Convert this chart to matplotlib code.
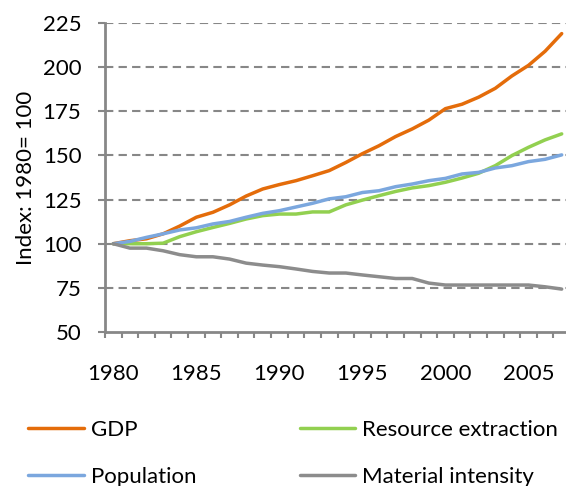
import numpy as np
import matplotlib.pyplot as plt

years = np.arange(1980, 2008)
gdp = [100, 101.7, 102.8, 105.6, 110, 115, 117.8, 122, 127, 131, 133.5, 135.7,
       138.5, 141.4, 146, 151, 155.5, 160.7, 165, 170, 176.5, 179, 183, 188,
       195, 201, 209, 219]
population = [100, 101.3, 103.6, 105.6, 107.8, 109, 111.2, 112.6, 115, 117.2, 118.7, 120.8,
              122.9, 125.4, 126.6, 129, 130, 132.3, 133.8, 135.7, 137, 139.5, 140.4, 142.9,
              144.2, 146.5, 147.8, 150.3]
resource = [100, 100, 100, 100.3, 104, 106.8, 109.2, 111.5, 114, 115.9, 116.8, 116.8,
            118, 118, 122, 124.7, 127.2, 129.6, 131.6, 132.9, 134.8, 137.2, 139.9, 144.2,
            149.9, 154.6, 158.8, 162.2]
intensity = [100, 97.5, 97.5, 96, 93.8, 92.6, 92.6, 91.3, 89, 87.9, 87, 85.7,
             84.3, 83.4, 83.4, 82.3, 81.3, 80.3, 80.3, 77.7, 76.6, 76.6, 76.6, 76.6,
             76.6, 76.6, 75.6, 74.3]
yticks = [50, 75, 100, 125, 150, 175, 200, 225]
xlabels = [1980, 1985, 1990, 1995, 2000, 2005]

plt.rcParams['font.family'] = ['Lato', 'DejaVu Sans']
grey = '#878787'
fs = 16

fig = plt.figure(figsize=(5.66, 4.86), dpi=100)
ax = fig.add_axes([105/566, 154/486, 465/566, 309/486])

ax.plot(years, gdp, color='#E46C0A', lw=2.5, label='GDP', solid_capstyle='round')
ax.plot(years, resource, color='#92D050', lw=2.5, label='Resource extraction', solid_capstyle='round')
ax.plot(years, population, color='#7BA7DE', lw=2.5, label='Population', solid_capstyle='round')
ax.plot(years, intensity, color='#8C8C8C', lw=2.5, label='Material intensity', solid_capstyle='round')

ax.set_xlim(1979.5, 2007.5)
ax.set_ylim(50, 225)
ax.set_yticks(yticks)
ax.set_xticks(xlabels)
ax.set_xticks(np.arange(1979.5, 2008, 1), minor=True)
ax.tick_params(axis='x', which='major', length=0, pad=23, labelsize=fs)
ax.tick_params(axis='x', which='minor', length=4, width=1.5, color=grey, direction='out')
ax.tick_params(axis='y', length=5, width=1.5, color=grey, pad=12, labelsize=fs)

for y in yticks[1:]:
    ax.axhline(y, color=grey, lw=1.5, ls=(0, (4, 2.5)), zorder=0)

for s in ['top', 'right']:
    ax.spines[s].set_visible(False)
for s in ['left', 'bottom']:
    ax.spines[s].set_color(grey)
    ax.spines[s].set_linewidth(2)

ax.set_ylabel('Index: 1980= 100', fontsize=fs, labelpad=5)

h, l = ax.get_legend_handles_labels()
order = [0, 2, 1, 3]
fig.legend([h[i] for i in order], [l[i] for i in order], ncol=2, frameon=False,
           loc='upper left', bbox_to_anchor=(8/566, 1 - 400/486), fontsize=fs,
           handlelength=2.5, columnspacing=4.65, labelspacing=1.22, handletextpad=0.32)

fig.savefig('out.png', dpi=100)
